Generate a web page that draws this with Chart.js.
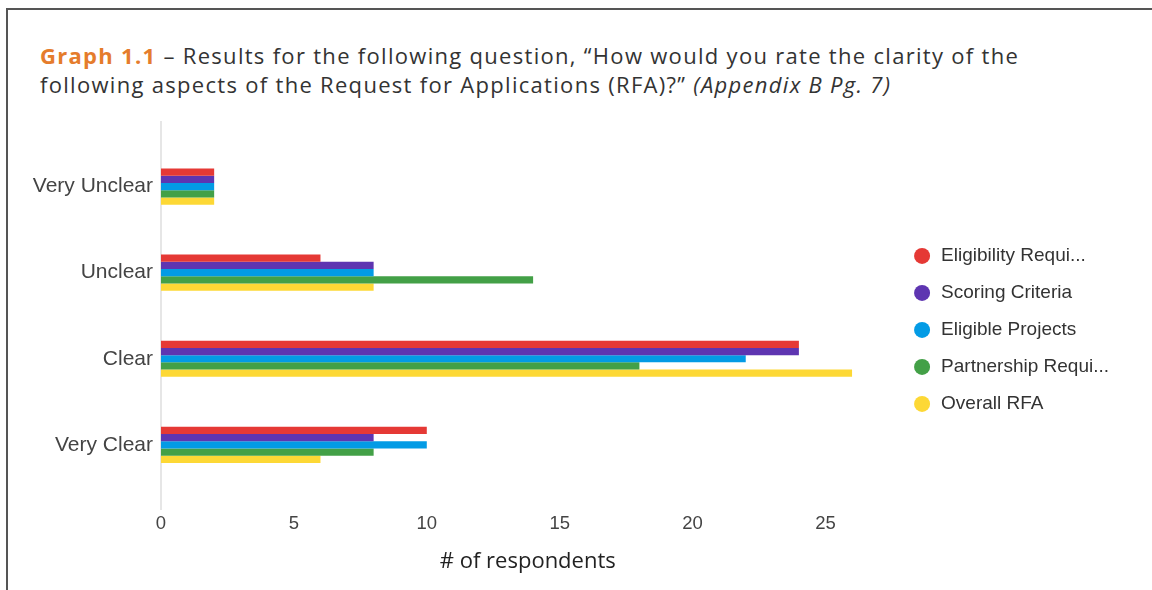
<!DOCTYPE html>
<html>
<head>
<meta charset="utf-8">
<script src="https://cdn.jsdelivr.net/npm/chart.js@4.4.1/dist/chart.umd.min.js"></script>
<style>
  html, body { margin: 0; padding: 0; background: #fff; }
  body { width: 1152px; height: 590px; overflow: hidden; position: relative; }
  .frame { position: absolute; left: 6px; top: 8px; right: 0; bottom: 0;
           border-top: 2px solid #555; border-left: 2px solid #555; }
  .caption { position: absolute; left: 40px; top: 41px; font-family: "Open Sans", sans-serif;
             font-size: 22px; letter-spacing: 1.3px; line-height: 29px; color: #333; white-space: nowrap; }
  .caption b { color: #e57c2c; }
  #wrap { position: absolute; left: 0; top: 110px; width: 1152px; height: 480px; }
</style>
</head>
<body>
<div class="frame"></div>
<div class="caption">
  <b>Graph 1.1</b> – Results for the following question, “How would you rate the clarity of the<br>
  following aspects of the Request for Applications (RFA)?” <i>(Appendix B Pg. 7)</i>
</div>
<div id="wrap"><canvas id="chart"></canvas></div>

<script>
// ratings (rows of the chart)
const categories = ['Very Unclear', 'Unclear', 'Clear', 'Very Clear'];
const seriesNames = ['Eligibility Requi...', 'Scoring Criteria', 'Eligible Projects', 'Partnership Requi...', 'Overall RFA'];

// respondents per rating
const eligibilityReq   = [2, 6, 24, 10];
const scoringCriteria  = [2, 8, 24, 8];
const eligibleProjects = [2, 8, 22, 10];
const partnershipReq   = [2, 14, 18, 8];
const overallRfa       = [2, 8, 26, 6];

const xTicks = [0, 5, 10, 15, 20, 25];
const colors = ['#e53935', '#5e35b1', '#039be5', '#43a047', '#fdd835'];

const series = [eligibilityReq, scoringCriteria, eligibleProjects, partnershipReq, overallRfa];

const datasets = series.map((vals, i) => ({
    label: seriesNames[i],
    data: vals.map((v, j) => ({ x: v, y: j })),
    backgroundColor: colors[i],
    borderWidth: 0,
    categoryPercentage: 0.42,
    barPercentage: 1.0
}));

const tickFont = { family: '"Liberation Sans", Arial, sans-serif' };

// drop the half-label margins chart.js reserves at the axis ends
function noEdgePadding(axis) {
    axis.paddingTop = 0;
    axis.paddingBottom = 0;
    axis.paddingLeft = 0;
    axis.paddingRight = 0;
}

new Chart(document.getElementById('chart'), {
    type: 'bar',
    data: { datasets },
    options: {
        indexAxis: 'y',
        responsive: true,
        maintainAspectRatio: false,
        animation: false,
        layout: { padding: { top: 12, right: 33, bottom: 13, left: 0 } },
        scales: {
            y: {
                type: 'linear',
                reverse: true,
                offset: false,
                min: -0.75,
                max: 3.75,
                grid: { display: false, drawTicks: false },
                border: { display: true, color: '#e6e6e6', width: 2 },
                afterBuildTicks: axis => { axis.ticks = categories.map((c, i) => ({ value: i })); },
                afterFit: axis => { axis.width = 161; noEdgePadding(axis); },
                ticks: {
                    padding: 8,
                    color: '#444',
                    font: { ...tickFont, size: 21 },
                    callback: v => categories[v]
                }
            },
            x: {
                min: 0,
                max: 27.6,
                grid: { display: false, drawTicks: false },
                border: { display: false },
                afterBuildTicks: axis => { axis.ticks = xTicks.map(v => ({ value: v })); },
                afterFit: noEdgePadding,
                ticks: { padding: 3, color: '#444', font: { ...tickFont, size: 18.5 } },
                title: {
                    display: true,
                    text: '# of respondents',
                    color: '#222',
                    font: { family: '"Open Sans", sans-serif', size: 22 },
                    padding: { top: 11, bottom: 2 }
                }
            }
        },
        plugins: {
            tooltip: { enabled: false },
            legend: {
                position: 'right',
                fullSize: false,
                align: 'center',
                title: { display: true, text: '', padding: 7, font: { size: 12 } },
                labels: {
                    usePointStyle: true,
                    pointStyle: 'circle',
                    boxWidth: 19,
                    boxHeight: 11.3,
                    padding: 18,
                    color: '#333',
                    font: { ...tickFont, size: 19 }
                }
            }
        }
    }
});
</script>
</body>
</html>
